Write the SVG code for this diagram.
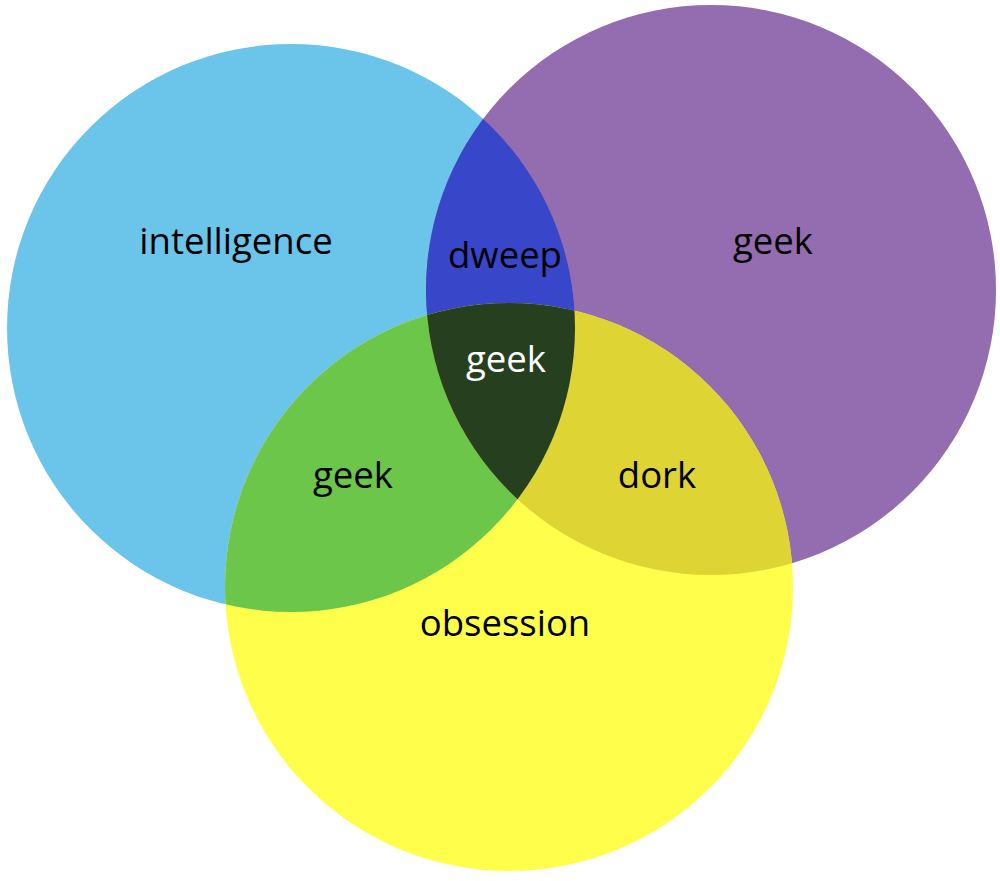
<svg xmlns="http://www.w3.org/2000/svg" width="1000" height="881" viewBox="0 0 1000 881">
  <style>
    .lbl { font-family: "Open Sans", "Liberation Sans", sans-serif; font-size: 36.5px; fill: #000; text-anchor: middle; }
    .white { fill: #fff; }
  </style>
  <defs>
    <clipPath id="cpBlue"><circle cx="291" cy="328" r="284"/></clipPath>
    <clipPath id="cpPurple"><circle cx="711" cy="290" r="285"/></clipPath>
    <clipPath id="cpYellow"><circle cx="509" cy="587" r="284"/></clipPath>
  </defs>
  <rect width="1000" height="881" fill="#fff"/>
  <g id="intelligence">
    <circle cx="291" cy="328" r="284" fill="#6BC4EA"/>
  </g>
  <g id="geek-set">
    <circle cx="711" cy="290" r="285" fill="#946CB0"/>
  </g>
  <g id="obsession">
    <circle cx="509" cy="587" r="284" fill="#FFFF4B"/>
  </g>
  <g id="dweep" clip-path="url(#cpBlue)">
    <circle cx="711" cy="290" r="285" fill="#3846C9"/>
  </g>
  <g id="geek-left" clip-path="url(#cpBlue)">
    <circle cx="509" cy="587" r="284" fill="#6BC64A"/>
  </g>
  <g id="dork" clip-path="url(#cpPurple)">
    <circle cx="509" cy="587" r="284" fill="#DED434"/>
  </g>
  <g id="geek-center" clip-path="url(#cpBlue)">
    <g clip-path="url(#cpPurple)">
      <circle cx="509" cy="587" r="284" fill="#263F1F"/>
    </g>
  </g>
  <g id="labels">
    <text class="lbl" x="236" y="254">intelligence</text>
    <text class="lbl" x="773" y="254">geek</text>
    <text class="lbl" x="505" y="268">dweep</text>
    <text class="lbl white" x="506" y="372">geek</text>
    <text class="lbl" x="353" y="488">geek</text>
    <text class="lbl" x="657" y="488">dork</text>
    <text class="lbl" x="505" y="636">obsession</text>
  </g>
</svg>
